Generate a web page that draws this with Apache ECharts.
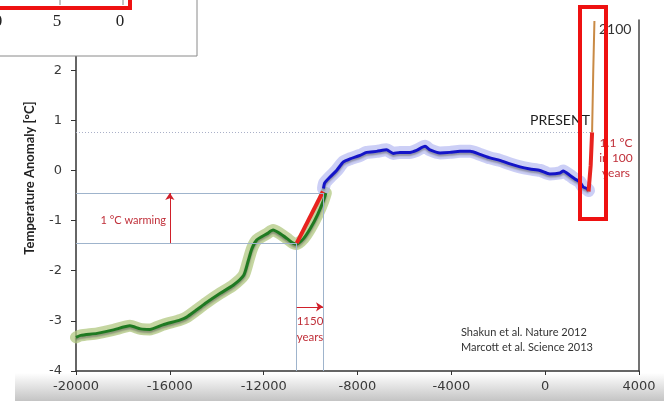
<!DOCTYPE html>
<html>
<head>
<meta charset="utf-8">
<script src="https://cdn.jsdelivr.net/npm/echarts@6/dist/echarts.min.js"></script>
<style>html,body{margin:0;padding:0;background:#fff;}#c{width:664px;height:401px;}</style>
</head>
<body>
<div id="c"></div>
<script>
// ---- data ----
const xTicks = [-20000, -16000, -12000, -8000, -4000, 0, 4000];
const yTicks = [-4, -3, -2, -1, 0, 1, 2, 3];

// Shakun et al. 2012 (green)
const shakunYears = [-20000,-19800,-19100,-18400,-17700,-17250,-16850,-16300,-15550,-15300,-14850,-14450,-13850,-13300,-12850,-12650,-12500,-12300,-11850,-11600,-11300,-11000,-10750,-10600,-10300,-10000,-9700,-9450,-9350];
const shakunTemps = [-3.33,-3.29,-3.25,-3.18,-3.10,-3.16,-3.17,-3.08,-2.98,-2.93,-2.78,-2.64,-2.45,-2.29,-2.09,-1.79,-1.56,-1.39,-1.26,-1.19,-1.26,-1.36,-1.45,-1.47,-1.36,-1.15,-0.88,-0.60,-0.45];

// Marcott et al. 2013 (blue)
const marcottYears = [-9450,-9400,-9170,-8890,-8600,-8320,-7890,-7610,-7180,-6760,-6480,-6190,-5760,-5480,-5120,-4910,-4480,-4060,-3630,-3200,-2780,-2350,-1930,-1500,-1070,-650,-220,200,630,770,1060,1270,1480,1620,1770,1850];
const marcottTemps = [-0.36,-0.25,-0.13,0.00,0.17,0.23,0.30,0.36,0.38,0.41,0.34,0.36,0.36,0.40,0.48,0.41,0.35,0.36,0.38,0.38,0.32,0.25,0.20,0.13,0.07,0.03,0.00,-0.07,-0.05,-0.01,-0.10,-0.17,-0.23,-0.33,-0.36,-0.40];

// deglacial warming segment (red)
const deglacialYears = [-10590, -9470];
const deglacialTemps = [-1.45, -0.42];

// modern warming (red) and projection to 2100 (orange)
const modernYears = [1850, 1940, 2000];
const modernTemps = [-0.42, 0.10, 0.76];
const projYears = [2000, 2050, 2100];
const projTemps = [0.76, 1.99, 2.98];

// annotation values
const warmLow = -1.45, warmHigh = -0.45;
const warmStartYear = -10590, warmEndYear = -9470;
const arrowYear = -16000;
const spanArrowTemp = -2.72;
const presentTemp = 0.76, presentYear = 1990;

const zip = (a, b) => a.map((v, i) => [v, b[i]]);

const chart = echarts.init(document.getElementById('c'), null, {renderer: 'canvas'});
const redText = '#c0303a';
const font = 'Lato, "Open Sans", sans-serif';

const seg = (x1, y1, x2, y2) => [{coord: [x1, y1]}, {coord: [x2, y2]}];

chart.setOption({
  animation: false,
  backgroundColor: '#ffffff',
  grid: {left: 76, right: 25, top: 20, bottom: 30, containLabel: false},
  xAxis: {
    type: 'value', min: xTicks[0], max: xTicks[xTicks.length - 1], interval: 4000,
    axisLine: {show: true, onZero: false, lineStyle: {color: '#333', width: 1.5}},
    axisTick: {show: true, length: 4, lineStyle: {color: '#333'}},
    axisLabel: {color: '#3a3a3a', fontSize: 13, fontFamily: '"DejaVu Sans", sans-serif', margin: 9,
                formatter: v => String(v)},
    splitLine: {show: false}
  },
  yAxis: [{
    type: 'value', min: yTicks[0], max: yTicks[yTicks.length - 1], interval: 1,
    axisLine: {show: true, onZero: false, lineStyle: {color: '#333', width: 1.5}},
    axisTick: {show: true, length: 5, lineStyle: {color: '#333'}},
    axisLabel: {color: '#3a3a3a', fontSize: 13, fontFamily: '"DejaVu Sans", sans-serif', margin: 14},
    splitLine: {show: false}
  }, {
    type: 'value', min: yTicks[0], max: yTicks[yTicks.length - 1], interval: 1, position: 'right',
    axisLine: {show: true, onZero: false, lineStyle: {color: '#444', width: 1.5}},
    axisTick: {show: false}, axisLabel: {show: false}, splitLine: {show: false}
  }],
  series: [
    // guide lines and arrows
    {
      type: 'line', data: [], silent: true,
      markLine: {
        silent: true, symbol: ['none', 'none'], label: {show: false},
        lineStyle: {color: '#9fb4cc', width: 1, type: 'solid'},
        data: [
          seg(xTicks[0], warmHigh, warmEndYear, warmHigh),
          seg(xTicks[0], warmLow, warmStartYear, warmLow),
          seg(warmStartYear, warmLow, warmStartYear, yTicks[0]),
          seg(warmEndYear, warmHigh, warmEndYear, yTicks[0])
        ]
      }
    },
    {
      type: 'line', data: [], silent: true,
      markLine: {
        silent: true, symbol: ['none', 'none'], label: {show: false},
        lineStyle: {color: '#aab0c8', width: 1, type: [1, 2]},
        data: [seg(xTicks[0], presentTemp, presentYear, presentTemp)]
      }
    },
    {
      type: 'line', data: [], silent: true,
      markLine: {
        silent: true, symbol: ['none', 'arrow'], symbolSize: 7, label: {show: false},
        lineStyle: {color: '#d0202a', width: 1, type: 'solid'},
        data: [
          seg(arrowYear, warmLow, arrowYear, warmHigh),
          seg(warmStartYear, spanArrowTemp, warmEndYear, spanArrowTemp)
        ]
      }
    },
    // uncertainty bands
    {type: 'line', data: zip(shakunYears, shakunTemps), showSymbol: false, smooth: 0.2,
     lineStyle: {color: 'rgba(178,200,130,0.75)', width: 12, cap: 'round', join: 'round'}, z: 2},
    {type: 'line', data: zip(marcottYears, marcottTemps), showSymbol: false, smooth: 0.2,
     lineStyle: {color: 'rgba(170,175,240,0.6)', width: 13, cap: 'round', join: 'round'}, z: 2},
    // main curves
    {type: 'line', data: zip(shakunYears, shakunTemps), showSymbol: false, smooth: 0.2,
     lineStyle: {color: '#1f7a22', width: 3, shadowColor: 'rgba(60,60,60,0.45)', shadowBlur: 2, shadowOffsetY: 2}, z: 3},
    {type: 'line', data: zip(marcottYears, marcottTemps), showSymbol: false, smooth: 0.2,
     lineStyle: {color: '#1414c8', width: 3, shadowColor: 'rgba(60,60,60,0.45)', shadowBlur: 2, shadowOffsetY: 2}, z: 3},
    {type: 'line', data: zip(deglacialYears, deglacialTemps), showSymbol: false,
     lineStyle: {color: '#e8231f', width: 4}, z: 4},
    {type: 'line', data: zip(projYears, projTemps), showSymbol: false,
     lineStyle: {color: '#c98a45', width: 2}, z: 4},
    {type: 'line', data: zip(modernYears, modernTemps), showSymbol: false,
     lineStyle: {color: '#e8231f', width: 4}, z: 4}
  ],
  graphic: [
    {type: 'rect', z: -10, shape: {x: 15, y: 373, width: 649, height: 28},
     style: {fill: new echarts.graphic.LinearGradient(0, 0, 0, 1, [{offset: 0, color: '#ffffff'}, {offset: 1, color: '#c4c4c4'}])}},
    {type: 'text', z: 50, x: 30, y: 178, rotation: Math.PI / 2,
     style: {text: 'Temperature Anomaly [°C]', font: 'bold 13px ' + font, fill: '#222', textAlign: 'center', textVerticalAlign: 'middle'}},
    {type: 'text', z: 50, x: 166, y: 220,
     style: {text: '1 °C warming', font: '11px ' + font, fill: redText, textAlign: 'right', textVerticalAlign: 'middle'}},
    {type: 'text', z: 50, x: 310, y: 321,
     style: {text: '1150', font: '11.5px ' + font, fill: redText, textAlign: 'center', textVerticalAlign: 'middle'}},
    {type: 'text', z: 50, x: 310, y: 337,
     style: {text: 'years', font: '11.5px ' + font, fill: redText, textAlign: 'center', textVerticalAlign: 'middle'}},
    {type: 'text', z: 50, x: 530, y: 120,
     style: {text: 'PRESENT', font: '14px ' + font, fill: '#1e1e1e', textAlign: 'left', textVerticalAlign: 'middle'}},
    {type: 'text', z: 50, x: 616, y: 143,
     style: {text: '1.1 °C', font: '12px ' + font, fill: redText, textAlign: 'center', textVerticalAlign: 'middle'}},
    {type: 'text', z: 50, x: 616, y: 158,
     style: {text: 'in 100', font: '12px ' + font, fill: redText, textAlign: 'center', textVerticalAlign: 'middle'}},
    {type: 'text', z: 50, x: 616, y: 173,
     style: {text: 'years', font: '12px ' + font, fill: redText, textAlign: 'center', textVerticalAlign: 'middle'}},
    {type: 'text', z: 50, x: 599, y: 29,
     style: {text: '2100', font: '14px ' + font, fill: '#333', textAlign: 'left', textVerticalAlign: 'middle'}},
    {type: 'text', z: 50, x: 461, y: 332,
     style: {text: 'Shakun et al. Nature 2012', font: '11px ' + font, fill: '#333', textAlign: 'left', textVerticalAlign: 'middle'}},
    {type: 'text', z: 50, x: 461, y: 347,
     style: {text: 'Marcott et al. Science 2013', font: '11px ' + font, fill: '#333', textAlign: 'left', textVerticalAlign: 'middle'}},
    // right highlight box
    {type: 'rect', z: 100, shape: {x: 580, y: 7, width: 26, height: 212},
     style: {fill: 'none', stroke: '#ee1111', lineWidth: 4}},
    // top-left inset
    {type: 'rect', z: 100, shape: {x: -2, y: -2, width: 199, height: 58},
     style: {fill: '#ffffff', stroke: '#8a8a8a', lineWidth: 1}},
    {type: 'line', z: 101, shape: {x1: 60, y1: 0, x2: 60, y2: 5}, style: {stroke: '#888', lineWidth: 1}},
    {type: 'line', z: 101, shape: {x1: 123, y1: 0, x2: 123, y2: 5}, style: {stroke: '#888', lineWidth: 1}},
    {type: 'rect', z: 102, shape: {x: -10, y: -10, width: 140, height: 18},
     style: {fill: 'none', stroke: '#ee1111', lineWidth: 4}},
    {type: 'text', z: 101, x: -2, y: 22,
     style: {text: '0', font: '17px "Liberation Serif", serif', fill: '#222', textAlign: 'center', textVerticalAlign: 'middle'}},
    {type: 'text', z: 101, x: 57, y: 22,
     style: {text: '5', font: '17px "Liberation Serif", serif', fill: '#222', textAlign: 'center', textVerticalAlign: 'middle'}},
    {type: 'text', z: 101, x: 120, y: 22,
     style: {text: '0', font: '17px "Liberation Serif", serif', fill: '#222', textAlign: 'center', textVerticalAlign: 'middle'}}
  ]
});
</script>
</body>
</html>
